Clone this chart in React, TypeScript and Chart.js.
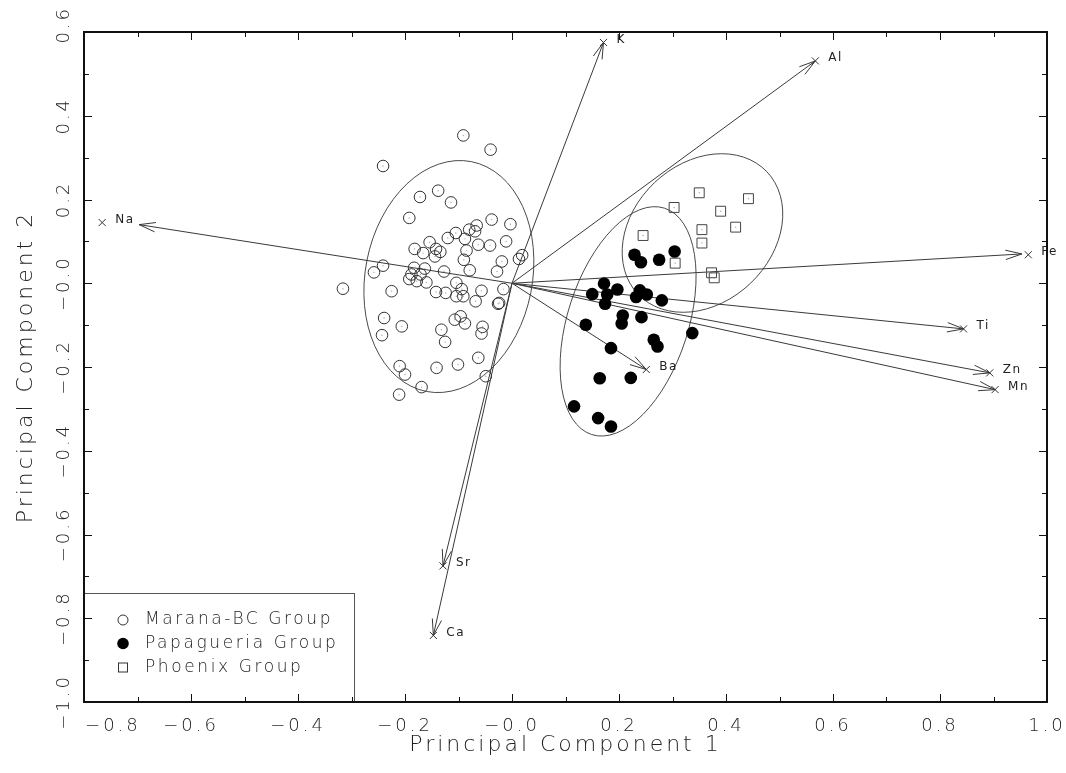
import React, { useEffect, useRef } from 'react';
import { Chart, registerables } from 'chart.js';

Chart.register(...registerables);

// ---------- data ----------
const X_TICK_LABELS = ['−0.8', '−0.6', '−0.4', '−0.2', '−0.0', '0.2', '0.4', '0.6', '0.8', '1.0'];
const Y_TICK_LABELS = ['−1.0', '−0.8', '−0.6', '−0.4', '−0.2', '−0.0', '0.2', '0.4', '0.6'];

const GROUP_NAMES = ['Marana-BC Group', 'Papagueria Group', 'Phoenix Group'];

const MARANA_X = [-0.091, -0.040, -0.241, -0.138, -0.172, -0.114, -0.192, -0.038, -0.003, -0.105,
  -0.120, -0.088, -0.080, -0.069, -0.066, -0.011, -0.063, -0.041, -0.154, -0.182,
  -0.166, -0.142, -0.134, -0.144, -0.085, -0.090, -0.019, 0.019, 0.013, -0.028,
  -0.079, -0.127, -0.241, -0.258, -0.183, -0.163, -0.188, -0.171, -0.192, -0.178,
  -0.160, -0.104, -0.094, -0.104, -0.091, -0.142, -0.124, -0.057, -0.068, -0.016,
  -0.225, -0.026, -0.024, -0.239, -0.206, -0.243, -0.107, -0.096, -0.088, -0.132,
  -0.125, -0.055, -0.057, -0.063, -0.101, -0.141, -0.210, -0.200, -0.169, -0.211,
  -0.049, -0.316];
const MARANA_Y = [0.353, 0.319, 0.280, 0.221, 0.206, 0.193, 0.156, 0.152, 0.141, 0.120,
  0.108, 0.106, 0.128, 0.124, 0.138, 0.100, 0.092, 0.090, 0.098, 0.082,
  0.072, 0.082, 0.075, 0.064, 0.078, 0.056, 0.052, 0.067, 0.058, 0.028,
  0.031, 0.028, 0.042, 0.026, 0.037, 0.035, 0.021, 0.021, 0.010, 0.005,
  0.002, 0.001, -0.014, -0.031, -0.031, -0.021, -0.023, -0.018, -0.043, -0.014,
  -0.019, -0.049, -0.047, -0.083, -0.103, -0.124, -0.087, -0.079, -0.096, -0.111,
  -0.140, -0.104, -0.120, -0.178, -0.194, -0.202, -0.198, -0.218, -0.248, -0.266,
  -0.222, -0.013];

const PAPAGUERIA_X = [0.304, 0.229, 0.241, 0.275, 0.172, 0.150, 0.178, 0.197, 0.174, 0.239,
  0.252, 0.232, 0.280, 0.207, 0.205, 0.242, 0.138, 0.337, 0.265, 0.272,
  0.185, 0.164, 0.222, 0.116, 0.161, 0.185];
const PAPAGUERIA_Y = [0.076, 0.068, 0.050, 0.056, -0.001, -0.026, -0.027, -0.015, -0.049, -0.017,
  -0.027, -0.033, -0.041, -0.077, -0.096, -0.081, -0.099, -0.119, -0.135, -0.151,
  -0.155, -0.227, -0.226, -0.294, -0.322, -0.342];

const PHOENIX_X = [0.350, 0.303, 0.442, 0.390, 0.418, 0.355, 0.245, 0.355, 0.305, 0.373, 0.378];
const PHOENIX_Y = [0.216, 0.181, 0.202, 0.172, 0.134, 0.128, 0.114, 0.096, 0.048, 0.025, 0.013];

// variable loadings (marker + label position) and arrow tips
const LOADING_NAMES = ['Na', 'K', 'Al', 'Fe', 'Ti', 'Zn', 'Mn', 'Ba', 'Sr', 'Ca'];
const LOADING_X = [-0.766, 0.171, 0.567, 0.965, 0.844, 0.893, 0.903, 0.251, -0.129, -0.147];
const LOADING_Y = [0.145, 0.575, 0.531, 0.068, -0.109, -0.214, -0.254, -0.206, -0.675, -0.841];
const ARROW_X = [-0.697, 0.171, 0.567, 0.953, 0.844, 0.893, 0.903, 0.251, -0.129, -0.147];
const ARROW_Y = [0.140, 0.575, 0.531, 0.070, -0.109, -0.214, -0.254, -0.206, -0.675, -0.841];

// group ellipses: centre and two conjugate semi-axis vectors (data units)
const ELLIPSE_CX = [-0.118, 0.217, 0.356];
const ELLIPSE_CY = [0.016, -0.091, 0.120];
const ELLIPSE_UX = [0.0421, 0.0681, 0.1203];
const ELLIPSE_UY = [0.2744, 0.2703, 0.1464];
const ELLIPSE_VX = [0.1532, 0.1073, 0.0898];
const ELLIPSE_VY = [-0.0384, -0.0442, -0.1201];

// ---------- style ----------
const FONT = '"DejaVu Sans", "Liberation Sans", sans-serif';
const TEXT = '#222';
const LINE = '#3a3a3a';

const pts = (xs: number[], ys: number[]) => xs.map((x, i) => ({ x, y: ys[i] }));

const decorPlugin = {
  id: 'decor',
  beforeUpdate(chart: any) {
    chart.ctx.letterSpacing = '3px';
  },
  beforeDraw(chart: any) {
    const ctx = chart.ctx;
    ctx.letterSpacing = '3px';
    ctx.save();
    ctx.fillStyle = '#fff';
    ctx.fillRect(0, 0, chart.width, chart.height);
    ctx.restore();
  },
  beforeDatasetsDraw(chart: any) {
    const { ctx } = chart;
    const xs = chart.scales.x;
    const ys = chart.scales.y;
    ctx.save();
    ctx.strokeStyle = '#4a4a4a';
    ctx.lineWidth = 1;
    for (let i = 0; i < ELLIPSE_CX.length; i++) {
      const cx = xs.getPixelForValue(ELLIPSE_CX[i]);
      const cy = ys.getPixelForValue(ELLIPSE_CY[i]);
      const ux = xs.getPixelForValue(ELLIPSE_CX[i] + ELLIPSE_UX[i]) - cx;
      const uy = ys.getPixelForValue(ELLIPSE_CY[i] + ELLIPSE_UY[i]) - cy;
      const vx = xs.getPixelForValue(ELLIPSE_CX[i] + ELLIPSE_VX[i]) - cx;
      const vy = ys.getPixelForValue(ELLIPSE_CY[i] + ELLIPSE_VY[i]) - cy;
      ctx.beginPath();
      ctx.save();
      ctx.transform(ux, uy, vx, vy, cx, cy);
      ctx.arc(0, 0, 1, 0, Math.PI * 2);
      ctx.restore();
      ctx.stroke();
    }
    ctx.restore();
  },
  afterDatasetsDraw(chart: any) {
    const { ctx, chartArea } = chart;
    const xs = chart.scales.x;
    const ys = chart.scales.y;
    ctx.save();
    // arrowheads
    ctx.strokeStyle = LINE;
    ctx.lineWidth = 1;
    chart.data.datasets.forEach((ds: any, di: number) => {
      if (ds.arrowIndex === undefined) return;
      const meta = chart.getDatasetMeta(di);
      const p0 = meta.data[0];
      const p1 = meta.data[1];
      const a = Math.atan2(p1.y - p0.y, p1.x - p0.x);
      const L = 17;
      const H = 0.28;
      ctx.beginPath();
      for (const s of [-1, 1]) {
        ctx.moveTo(p1.x, p1.y);
        ctx.lineTo(p1.x - L * Math.cos(a + s * H), p1.y - L * Math.sin(a + s * H));
      }
      ctx.stroke();
    });
    // loading labels
    chart.data.datasets.forEach((ds: any, di: number) => {
      if (!ds.isLoadingMarker) return;
      const meta = chart.getDatasetMeta(di);
      ctx.font = `12px ${FONT}`;
      ctx.letterSpacing = '1.5px';
      ctx.fillStyle = TEXT;
      ctx.textAlign = 'left';
      ctx.textBaseline = 'middle';
      meta.data.forEach((p: any, j: number) => {
        ctx.fillText(LOADING_NAMES[j], p.x + 13, p.y - 3);
      });
    });

    // legend box
    const lx = chartArea.left;
    const lb = chartArea.bottom;
    const lh = 109;
    const lw = 270;
    ctx.fillStyle = '#fff';
    ctx.fillRect(lx, lb - lh, lw, lh);
    ctx.strokeStyle = '#555';
    ctx.lineWidth = 1;
    ctx.strokeRect(lx + 0.5, lb - lh + 0.5, lw, lh);
    const rows = [82, 58.5, 34.5];
    ctx.font = `200 17px ${FONT}`;
    ctx.letterSpacing = '2.6px';
    ctx.textAlign = 'left';
    ctx.textBaseline = 'middle';
    rows.forEach((off, i) => {
      const yy = lb - off;
      const mx = lx + 39;
      ctx.beginPath();
      if (i === 0) {
        ctx.strokeStyle = '#333';
        ctx.arc(mx, yy, 5, 0, Math.PI * 2);
        ctx.stroke();
      } else if (i === 1) {
        ctx.fillStyle = '#000';
        ctx.arc(mx, yy, 5.8, 0, Math.PI * 2);
        ctx.fill();
      } else {
        ctx.strokeStyle = '#333';
        ctx.strokeRect(mx - 4.5, yy - 4.5, 9, 9);
      }
      ctx.fillStyle = TEXT;
      ctx.fillText(GROUP_NAMES[i], lx + 61, yy);
    });

    // frame
    ctx.strokeStyle = '#111';
    ctx.lineWidth = 2;
    ctx.strokeRect(chartArea.left, chartArea.top, chartArea.right - chartArea.left, chartArea.bottom - chartArea.top);

    // inward ticks on all four sides
    ctx.lineWidth = 1;
    ctx.beginPath();
    xs.ticks.forEach((t: any) => {
      if (t.value <= xs.min + 1e-9 || t.value >= xs.max - 1e-9) return;
      const px = Math.round(xs.getPixelForValue(t.value)) + 0.5;
      const len = Math.round(t.value * 10) % 2 === 0 ? 8 : 5;
      ctx.moveTo(px, chartArea.bottom);
      ctx.lineTo(px, chartArea.bottom - len);
      ctx.moveTo(px, chartArea.top);
      ctx.lineTo(px, chartArea.top + len);
    });
    ys.ticks.forEach((t: any) => {
      if (t.value <= ys.min + 1e-9 || t.value >= ys.max - 1e-9) return;
      const py = Math.round(ys.getPixelForValue(t.value)) + 0.5;
      const len = Math.round(t.value * 10) % 2 === 0 ? 8 : 5;
      ctx.moveTo(chartArea.left, py);
      ctx.lineTo(chartArea.left + len, py);
      ctx.moveTo(chartArea.right, py);
      ctx.lineTo(chartArea.right - len, py);
    });
    ctx.stroke();
    ctx.restore();
  },
};

export default function App() {
  const ref = useRef<HTMLCanvasElement>(null);
  useEffect(() => {
    const canvas = ref.current;
    if (!canvas) return;
    const arrowSets = LOADING_NAMES.map((name, i) => ({
      type: 'line' as const,
      label: name,
      arrowIndex: i,
      data: [{ x: 0, y: 0 }, { x: ARROW_X[i], y: ARROW_Y[i] }],
      showLine: true,
      borderColor: LINE,
      borderWidth: 1,
      pointRadius: 0,
      fill: false,
    }));
    const chart = new Chart(canvas, {
      type: 'scatter',
      data: {
        datasets: [
          {
            label: GROUP_NAMES[1],
            data: pts(PAPAGUERIA_X, PAPAGUERIA_Y),
            pointStyle: 'circle',
            pointRadius: 6.3,
            backgroundColor: '#000',
            borderColor: '#000',
            borderWidth: 0,
          },
          {
            label: GROUP_NAMES[0],
            data: pts(MARANA_X, MARANA_Y),
            pointStyle: 'circle',
            pointRadius: 5.8,
            backgroundColor: 'rgba(0,0,0,0)',
            borderColor: '#333',
            borderWidth: 1,
          },
          {
            label: GROUP_NAMES[0] + ' centre',
            data: pts(MARANA_X, MARANA_Y),
            pointRadius: 0.7,
            backgroundColor: '#aaa',
            borderWidth: 0,
          },
          {
            label: GROUP_NAMES[2],
            data: pts(PHOENIX_X, PHOENIX_Y),
            pointStyle: 'rect',
            pointRadius: 7,
            backgroundColor: 'rgba(0,0,0,0)',
            borderColor: '#444',
            borderWidth: 1,
          },
          {
            label: GROUP_NAMES[2] + ' centre',
            data: pts(PHOENIX_X, PHOENIX_Y),
            pointRadius: 0.7,
            backgroundColor: '#aaa',
            borderWidth: 0,
          },
          {
            label: 'Loadings',
            isLoadingMarker: true,
            data: pts(LOADING_X, LOADING_Y),
            pointStyle: 'crossRot',
            pointRadius: 5,
            borderColor: '#333',
            borderWidth: 1,
          } as any,
          ...(arrowSets as any[]),
        ],
      },
      options: {
        responsive: false,
        devicePixelRatio: 1,
        animation: false,
        events: [],
        layout: { padding: { left: 0, top: 32, right: 19, bottom: 0 } },
        plugins: {
          legend: { display: false },
          tooltip: { enabled: false },
        },
        scales: {
          x: {
            type: 'linear',
            min: -0.8,
            max: 1.0,
            grid: { display: false, drawTicks: false },
            border: { display: false },
            ticks: {
              stepSize: 0.1,
              autoSkip: false,
              minRotation: 0,
              maxRotation: 0,
              padding: 14,
              color: TEXT,
              font: { family: FONT, size: 18, weight: '200' as any },
              callback: (v: any) => {
                const k = Math.round(Number(v) * 10);
                if (k % 2 !== 0) return '';
                const idx = (k + 8) / 2;
                const s = X_TICK_LABELS[idx] ?? '';
                return idx === 0 ? '\u2007\u2007\u2007\u2007' + s : s;
              },
            },
            title: {
              display: true,
              text: 'Principal Component 1',
              color: TEXT,
              font: { family: FONT, size: 22, weight: '200' as any },
              padding: { top: 0, bottom: 15 },
            },
            afterFit: (s: any) => {
              s.height = 71;
              s.paddingLeft = 0;
              s.paddingRight = 0;
            },
          },
          y: {
            type: 'linear',
            min: -1.0,
            max: 0.6,
            grid: { display: false, drawTicks: false },
            border: { display: false },
            ticks: {
              stepSize: 0.1,
              autoSkip: false,
              minRotation: 90,
              maxRotation: 90,
              crossAlign: 'center',
              padding: -8,
              color: TEXT,
              font: { family: FONT, size: 18, weight: '200' as any },
              callback: (v: any) => {
                const k = Math.round(Number(v) * 10);
                if (k % 2 !== 0) return '';
                const idx = (k + 10) / 2;
                const s = Y_TICK_LABELS[idx] ?? '';
                return idx === Y_TICK_LABELS.length - 1 ? '\u2007' + s : s;
              },
            },
            title: {
              display: true,
              text: 'Principal Component 2',
              color: TEXT,
              font: { family: FONT, size: 22, weight: '200' as any },
              padding: { top: 13, bottom: 0 },
            },
            afterFit: (s: any) => {
              s.width = 84;
              s.paddingTop = 0;
              s.paddingBottom = 0;
            },
          },
        },
      } as any,
      plugins: [decorPlugin as any],
    });
    return () => chart.destroy();
  }, []);

  return (
    <div style={{ position: 'fixed', left: 0, top: 0, width: 1066, height: 773, background: '#fff' }}>
      <canvas ref={ref} width={1066} height={773} style={{ display: 'block', width: 1066, height: 773 }} />
    </div>
  );
}
